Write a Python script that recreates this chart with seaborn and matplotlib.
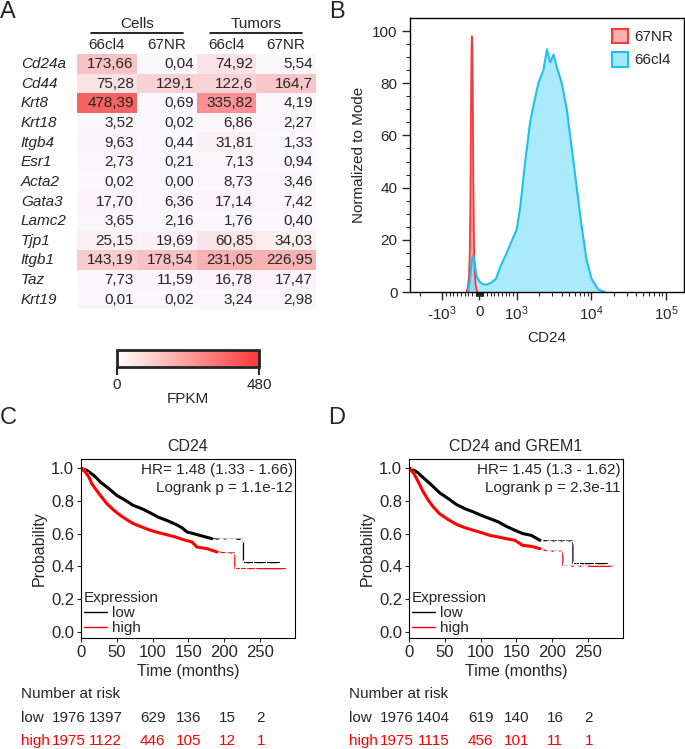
import matplotlib
matplotlib.use('Agg')
import matplotlib.pyplot as plt
import matplotlib.transforms as mtransforms
from matplotlib.colors import LinearSegmentedColormap, Normalize
from matplotlib.cm import ScalarMappable
from matplotlib.lines import Line2D
from matplotlib.patches import Patch
import pandas as pd
import seaborn as sns

# ---------------- panel A: FPKM table (as printed) ----------------
genes = ['Cd24a', 'Cd44', 'Krt8', 'Krt18', 'Itgb4', 'Esr1', 'Acta2',
         'Gata3', 'Lamc2', 'Tjp1', 'Itgb1', 'Taz', 'Krt19']
sample_groups = ['Cells', 'Tumors']
sample_lines = ['66cl4', '67NR', '66cl4', '67NR']
cells_66cl4 = ['173,66', '75,28', '478,39', '3,52', '9,63', '2,73', '0,02',
               '17,70', '3,65', '25,15', '143,19', '7,73', '0,01']
cells_67nr = ['0,04', '129,1', '0,69', '0,02', '0,44', '0,21', '0,00',
              '6,36', '2,16', '19,69', '178,54', '11,59', '0,02']
tumors_66cl4 = ['74,92', '122,6', '335,82', '6,86', '31,81', '7,13', '8,73',
                '17,14', '1,76', '60,85', '231,05', '16,78', '3,24']
tumors_67nr = ['5,54', '164,7', '4,19', '2,27', '1,33', '0,94', '3,46',
               '7,42', '0,40', '34,03', '226,95', '17,47', '2,98']
fpkm_max = 480

# ---------------- panel B: CD24 flow histograms (% of mode) ----------------
nr67_cd24 = [-350, -310, -280, -258, -240, -226, -214, -204, -195, -185,
             -174, -162, -148, -130, -105, -80, -50]
nr67_mode = [0, 2, 6, 16, 40, 72, 92, 98, 96, 85, 64, 40, 20, 9, 3, 1, 0]
cl66_cd24 = [-310, -250, -205, -170, -130, -75, 0, 90, 180, 310, 440, 570,
             700, 880, 1000, 1120, 1300, 1510, 1690, 1950, 2280, 2540, 2810,
             3120, 3450, 4020, 4690, 5470, 6370, 7430, 8670, 10100, 12400, 15100]
cl66_mode = [0, 5, 12, 14, 11, 6, 4, 3, 2.8, 3.5, 5, 10, 14, 20, 24, 33, 50,
             65, 72, 80, 85, 93, 88, 91, 86, 80, 70, 55, 40, 25, 12, 5, 1, 0]

# ---------------- panels C/D: Kaplan-Meier curves ----------------
c_low_t = [0, 8, 18, 27, 39, 50, 62, 73, 85, 97, 108, 120, 132, 141, 148, 157,
           171, 183, 195, 205, 213, 227, 227, 241, 259, 278]
c_low_s = [1.0, 0.986, 0.955, 0.915, 0.874, 0.833, 0.803, 0.772, 0.752, 0.726,
           0.70, 0.68, 0.657, 0.636, 0.61, 0.60, 0.583, 0.569, 0.565, 0.565,
           0.565, 0.565, 0.423, 0.423, 0.423, 0.423]
c_high_t = [0, 6, 11, 15, 20, 27, 36, 46, 55, 64, 73, 85, 97, 108, 120, 132,
            143, 155, 162, 176, 190, 203, 215, 215, 222, 231, 243, 287]
c_high_s = [1.0, 0.976, 0.945, 0.905, 0.874, 0.833, 0.783, 0.742, 0.711,
            0.685, 0.661, 0.64, 0.62, 0.606, 0.593, 0.579, 0.563, 0.549, 0.518,
            0.508, 0.488, 0.482, 0.482, 0.386, 0.386, 0.386, 0.386, 0.386]
d_low_t = [0, 11, 20, 32, 43, 55, 66, 78, 90, 101, 113, 125, 136, 148, 159,
           171, 183, 195, 207, 218, 229, 229, 238, 259, 278]
d_low_s = [1.0, 0.976, 0.941, 0.894, 0.848, 0.813, 0.778, 0.752, 0.732, 0.711,
           0.691, 0.671, 0.644, 0.62, 0.60, 0.589, 0.559, 0.555, 0.555, 0.555,
           0.555, 0.417, 0.417, 0.417, 0.417]
d_high_t = [0, 7, 13, 20, 27, 34, 43, 55, 66, 78, 90, 101, 113, 125, 136, 148,
            159, 171, 183, 194, 205, 215, 215, 222, 234, 245, 287]
d_high_s = [1.0, 0.965, 0.915, 0.854, 0.803, 0.762, 0.72, 0.685, 0.657, 0.636,
            0.62, 0.606, 0.589, 0.579, 0.569, 0.559, 0.528, 0.522, 0.508,
            0.492, 0.492, 0.492, 0.40, 0.40, 0.40, 0.40, 0.40]
c_risk_low = [1976, 1397, 629, 136, 15, 2]
c_risk_high = [1975, 1122, 446, 105, 12, 1]
d_risk_low = [1976, 1404, 619, 140, 16, 2]
d_risk_high = [1975, 1115, 456, 101, 11, 1]

sns.set_style('white')
plt.rcParams['font.family'] = ['Liberation Sans', 'DejaVu Sans']
plt.rcParams['mathtext.fontset'] = 'custom'
plt.rcParams['mathtext.rm'] = 'Liberation Sans'
plt.rcParams['mathtext.default'] = 'regular'
plt.rcParams['font.size'] = 11

W, H = 685, 749
fig = plt.figure(figsize=(W / 100, H / 100), dpi=100)


def px_axes(l, t, r, b):
    return fig.add_axes([l / W, 1 - b / H, (r - l) / W, (b - t) / H])


def to_num(s):
    return float(s.replace(',', '.'))


# ================= A =================
labels = [cells_66cl4, cells_67nr, tumors_66cl4, tumors_67nr]
df = pd.DataFrame({i: [to_num(v) for v in col] for i, col in enumerate(labels)},
                  index=genes)
hm_cmap = LinearSegmentedColormap.from_list('hm', ['#faf8fc', '#f46464'])
ax_a = px_axes(77, 54, 316, 309)
sns.heatmap(df, ax=ax_a, cmap=hm_cmap, vmin=0, vmax=fpkm_max, cbar=False,
            xticklabels=False, yticklabels=False)
for j, col in enumerate(labels):
    for i, txt in enumerate(col):
        ax_a.text(j + 0.95, i + 0.52, txt, ha='right', va='center', fontsize=11)
for i, g in enumerate(genes):
    ax_a.text(-0.94, i + 0.52, g, ha='left', va='center', fontsize=11,
              style='italic', clip_on=False)
for j, s in enumerate(sample_lines):
    ax_a.text(j + 0.5, -0.46, s, ha='center', va='center', fontsize=11,
              clip_on=False)
for k, grp in enumerate(sample_groups):
    ax_a.text(2 * k + 1, -1.55, grp, ha='center', va='center', fontsize=11,
              clip_on=False)
    ax_a.plot([2 * k + 0.23, 2 * k + 1.77], [-1.07, -1.07], color='black',
              lw=1.2, clip_on=False)

ax_cb = px_axes(117, 350, 259, 367)
cb_cmap = LinearSegmentedColormap.from_list('cb', ['#ffffff', '#ff3838'])
cb = fig.colorbar(ScalarMappable(norm=Normalize(0, fpkm_max), cmap=cb_cmap),
                  cax=ax_cb, orientation='horizontal')
cb.set_ticks([0, fpkm_max])
cb.outline.set_linewidth(2)
ax_cb.tick_params(length=6, width=1.5, pad=2, labelsize=11)
cb.set_label('FPKM', fontsize=11, labelpad=0)

# ================= B =================
ax_b = px_axes(410, 18, 684, 292)
ax_b.set_xscale('symlog', linthresh=1000, linscale=0.45)
ax_b.fill_between(nr67_cd24, nr67_mode, color='#f8a2a3', lw=0)
ax_b.fill_between(cl66_cd24, cl66_mode, color='#8fe3f9', alpha=0.75, lw=0)
sns.lineplot(x=nr67_cd24, y=nr67_mode, ax=ax_b, color='#f5393c', lw=1.3,
             estimator=None, sort=False)
sns.lineplot(x=cl66_cd24, y=cl66_mode, ax=ax_b, color='#1fbff0', lw=1.5,
             estimator=None, sort=False)
ax_b.set_xlim(-2700, 175000)
ax_b.set_ylim(0, 105)
ax_b.set_xticks([-1000, 0, 1000, 10000, 100000])
ax_b.set_xticklabels(['-$10^{3}$', '0', '$10^{3}$', '$10^{4}$', '$10^{5}$'])
minor_x = ([-2000] + [-100 * k for k in range(1, 10)] + [-10 * k for k in range(1, 10)]
           + [10 * k for k in range(1, 10)] + [100 * k for k in range(1, 10)]
           + [1000 * k for k in range(2, 10)] + [10000 * k for k in range(2, 10)])
ax_b.set_xticks(minor_x, minor=True)
ax_b.set_yticks(range(0, 101, 20))
ax_b.set_yticks(range(0, 101, 5), minor=True)
ax_b.tick_params(which='major', direction='out', length=6, width=1, pad=3,
                 labelsize=11, bottom=True, left=True)
ax_b.tick_params(which='minor', direction='out', length=3, width=0.8,
                 bottom=True, left=True)
for sp in ax_b.spines.values():
    sp.set_linewidth(1)
    sp.set_color('black')
ax_b.set_xlabel('CD24', fontsize=11, labelpad=6)
ax_b.set_ylabel('Normalized to Mode', fontsize=11, labelpad=4)
ax_b.legend(handles=[Patch(facecolor='#fdb0b0', edgecolor='#f5393c', lw=1.5),
                     Patch(facecolor='#a3e8fb', edgecolor='#1fbff0', lw=1.5)],
            labels=['67NR', '66cl4'], loc='upper right', frameon=False,
            fontsize=11, handlelength=1.1, handleheight=1.1,
            handletextpad=0.4, labelspacing=0.5, borderaxespad=0.3)

# ================= C / D =================
risk_x = [-17, 34, 100, 151, 204, 251]
dense_until = 190  # months: region with many censored patients (thick curve)


def draw_km(ax, title, low_t, low_s, high_t, high_s, hr, p, risk_low, risk_high):
    for t, s, c in [(low_t, low_s, 'black'), (high_t, high_s, 'red')]:
        sns.lineplot(x=t, y=s, ax=ax, color=c, lw=0.9, estimator=None,
                     sort=False, marker='+', ms=4.5, mew=0.8)
        td = [v for v in t if v <= dense_until]
        sns.lineplot(x=td, y=s[:len(td)], ax=ax, color=c, lw=2.2,
                     estimator=None, sort=False)
    ax.set_xlim(0, 299)
    ax.set_ylim(-0.037, 1.055)
    ax.set_xticks(range(0, 251, 50))
    ax.set_yticks([0, 0.2, 0.4, 0.6, 0.8, 1.0])
    ax.set_yticklabels(['0.0', '0.2', '0.4', '0.6', '0.8', '1.0'])
    ax.tick_params(direction='out', length=3, width=0.8, pad=2, labelsize=12,
                   bottom=True, left=True)
    for sp in ax.spines.values():
        sp.set_linewidth(0.8)
        sp.set_color('black')
    ax.set_title(title, fontsize=11.5, pad=6)
    ax.set_xlabel('Time (months)', fontsize=11.5, labelpad=3)
    ax.set_ylabel('Probability', fontsize=11.5, labelpad=3)
    ax.text(0.99, 0.9385, hr, transform=ax.transAxes, ha='right', va='center',
            fontsize=11)
    ax.text(0.99, 0.838, p, transform=ax.transAxes, ha='right', va='center',
            fontsize=11)
    ax.legend(handles=[Line2D([], [], color='black', lw=1),
                       Line2D([], [], color='red', lw=1)],
              labels=['low', 'high'], title='Expression', loc='lower left',
              frameon=False, fontsize=11, title_fontsize=11, alignment='left',
              borderpad=0, borderaxespad=0.2, handlelength=1.5,
              handletextpad=0.3, labelspacing=0.05)
    tr = mtransforms.blended_transform_factory(ax.transData, ax.transAxes)
    ax.text(-84, -0.313, 'Number at risk', transform=tr, ha='left',
            va='center', fontsize=11)
    ax.text(-84, -0.447, 'low', transform=tr, ha='left', va='center', fontsize=11)
    ax.text(-84, -0.575, 'high', transform=tr, ha='left', va='center',
            fontsize=11, color='red')
    for x, lo, hi in zip(risk_x, risk_low, risk_high):
        ax.text(x, -0.447, str(lo), transform=tr, ha='center', va='center',
                fontsize=11)
        ax.text(x, -0.575, str(hi), transform=tr, ha='center', va='center',
                fontsize=11, color='red')


ax_c = px_axes(81, 459, 295, 638)
draw_km(ax_c, 'CD24', c_low_t, c_low_s, c_high_t, c_high_s,
        'HR= 1.48 (1.33 - 1.66)', 'Logrank p = 1.1e-12', c_risk_low, c_risk_high)
ax_d = px_axes(409, 459, 623, 638)
draw_km(ax_d, 'CD24 and GREM1', d_low_t, d_low_s, d_high_t, d_high_s,
        'HR= 1.45 (1.3 - 1.62)', 'Logrank p = 2.3e-11', d_risk_low, d_risk_high)

# panel letters
for letter, x, y in [('A', 8, 12), ('B', 337, 12), ('C', 8, 418), ('D', 337, 418)]:
    fig.text(x / W, 1 - y / H, letter, fontsize=17, ha='center', va='center')

fig.savefig('out.png', dpi=100)
